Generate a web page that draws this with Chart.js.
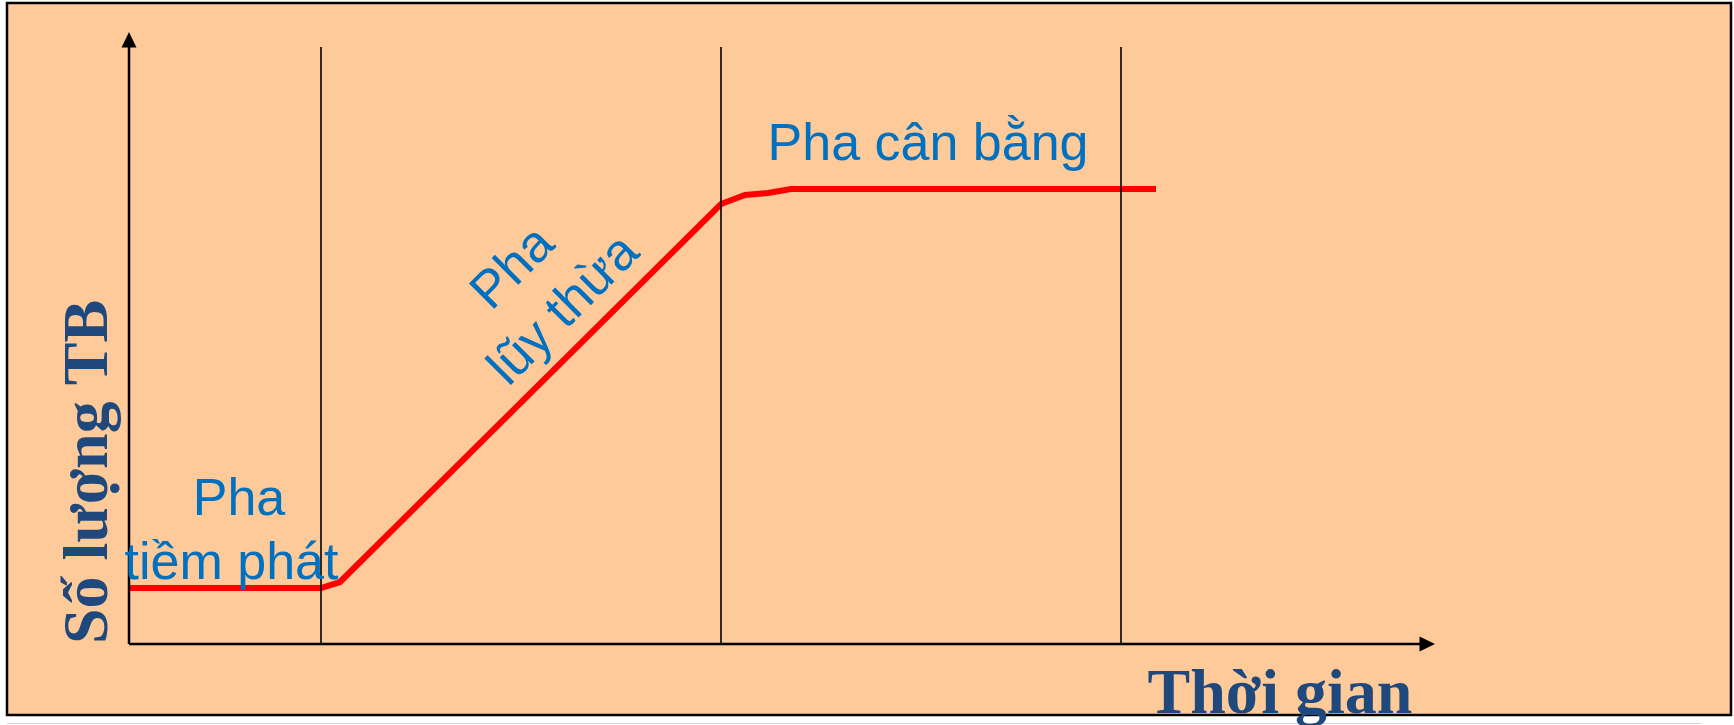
<!DOCTYPE html>
<html>
<head>
<meta charset="utf-8">
<script src="https://cdn.jsdelivr.net/npm/chart.js@4/dist/chart.umd.min.js"></script>
<style>
    html, body { margin: 0; padding: 0; background: #fff; }
    #wrap { width: 1734px; height: 725px; }
</style>
</head>
<body>
<div id="wrap"><canvas id="growthChart" width="1734" height="725"></canvas></div>
<script>
// Growth curve (arbitrary units)
const timePoints = [0, 1.92, 2.11, 5.92, 6.16, 6.39, 6.62, 10.27];
const cellCounts = [0.56, 0.56, 0.62, 4.40, 4.49, 4.51, 4.55, 4.55];

// Phase boundaries (vertical lines) and their top
const phaseBoundaries = [1.92, 5.92, 9.92];
const boundaryTop = 5.97;

// Texts
const phaseLabels = [['Pha', 'tiềm phát'], ['Pha', 'lũy thừa'], ['Pha cân bằng']];
const xTitle = 'Thời gian';
const yTitle = 'Số lượng TB';

// Axis ranges
const xMax = 13.06;
const yMax = 6.12;

// Where each label line sits (data coords), kept apart from the data
const labelPlacement = [
    { at: [[1.10, 1.29], [1.025, 0.65]], angle: 0, size: 52 },
    { at: [[3.95, 3.65], [4.46, 3.23]], angle: -45, size: 52 },
    { at: [[7.99, 4.84]], angle: 0, size: 52 }
];

const BG = '#FFCA99';
const LABEL_BLUE = '#0070C0';
const TITLE_BLUE = '#1F497D';

// Background, frame
const framePlugin = {
    id: 'frame',
    beforeDraw(chart) {
        const ctx = chart.ctx;
        ctx.save();
        ctx.fillStyle = '#fff';
        ctx.fillRect(0, 0, chart.width, chart.height);
        ctx.fillStyle = BG;
        ctx.fillRect(7, 3, 1724, 712);
        ctx.strokeStyle = '#000';
        ctx.lineWidth = 2.5;
        ctx.strokeRect(7, 3, 1724, 712);
        ctx.strokeStyle = '#EBC9C9';
        ctx.lineWidth = 1;
        ctx.beginPath();
        ctx.moveTo(7, 723.5);
        ctx.lineTo(1701, 723.5);
        ctx.stroke();
        ctx.restore();
    }
};

// Axes with arrows, labels and titles
const annotatePlugin = {
    id: 'annotate',
    afterDatasetsDraw(chart) {
        const ctx = chart.ctx;
        const a = chart.chartArea;
        const xs = chart.scales.x;
        const ys = chart.scales.y;
        ctx.save();

        // axes
        ctx.strokeStyle = '#000';
        ctx.fillStyle = '#000';
        ctx.lineWidth = 2.5;
        ctx.beginPath();
        ctx.moveTo(a.left, a.bottom);
        ctx.lineTo(a.left, a.top + 14);
        ctx.moveTo(a.left, a.bottom);
        ctx.lineTo(a.right - 14, a.bottom);
        ctx.stroke();
        ctx.beginPath();
        ctx.moveTo(a.left, a.top);
        ctx.lineTo(a.left - 7.5, a.top + 15.5);
        ctx.lineTo(a.left + 7.5, a.top + 15.5);
        ctx.closePath();
        ctx.fill();
        ctx.beginPath();
        ctx.moveTo(a.right, a.bottom);
        ctx.lineTo(a.right - 15.5, a.bottom - 7.5);
        ctx.lineTo(a.right - 15.5, a.bottom + 7.5);
        ctx.closePath();
        ctx.fill();

        // phase labels
        ctx.fillStyle = LABEL_BLUE;
        ctx.textAlign = 'center';
        ctx.textBaseline = 'alphabetic';
        phaseLabels.forEach((lines, i) => {
            const p = labelPlacement[i];
            ctx.font = p.size + 'px "Liberation Sans", Arial, sans-serif';
            lines.forEach((line, j) => {
                const px = xs.getPixelForValue(p.at[j][0]);
                const py = ys.getPixelForValue(p.at[j][1]);
                ctx.save();
                ctx.translate(px, py);
                ctx.rotate(p.angle * Math.PI / 180);
                ctx.fillText(line, 0, 0);
                ctx.restore();
            });
        });

        // axis titles
        ctx.fillStyle = TITLE_BLUE;
        ctx.font = 'bold 64px "Liberation Serif", "Times New Roman", serif';
        ctx.fillText(xTitle, 1280, 713);
        ctx.save();
        ctx.translate(106.5, 472);
        ctx.rotate(-Math.PI / 2);
        ctx.fillText(yTitle, 0, 0);
        ctx.restore();

        ctx.restore();
    }
};

const boundaryDatasets = phaseBoundaries.map(x => ({
    data: [{ x: x, y: 0 }, { x: x, y: boundaryTop }],
    borderColor: '#000',
    borderWidth: 1.6,
    pointRadius: 0,
    order: 0
}));

const growthDataset = {
    data: timePoints.map((t, i) => ({ x: t, y: cellCounts[i] })),
    borderColor: '#FF0000',
    borderWidth: 6,
    pointRadius: 0,
    tension: 0,
    order: 1
};

new Chart(document.getElementById('growthChart'), {
    type: 'line',
    data: { datasets: [...boundaryDatasets, growthDataset] },
    options: {
        responsive: false,
        animation: false,
        devicePixelRatio: 1,
        layout: { padding: { left: 129, top: 32, right: 299, bottom: 81 } },
        scales: {
            x: { type: 'linear', min: 0, max: xMax, display: false },
            y: { type: 'linear', min: 0, max: yMax, display: false }
        },
        plugins: {
            legend: { display: false },
            tooltip: { enabled: false }
        }
    },
    plugins: [framePlugin, annotatePlugin]
});
</script>
</body>
</html>
